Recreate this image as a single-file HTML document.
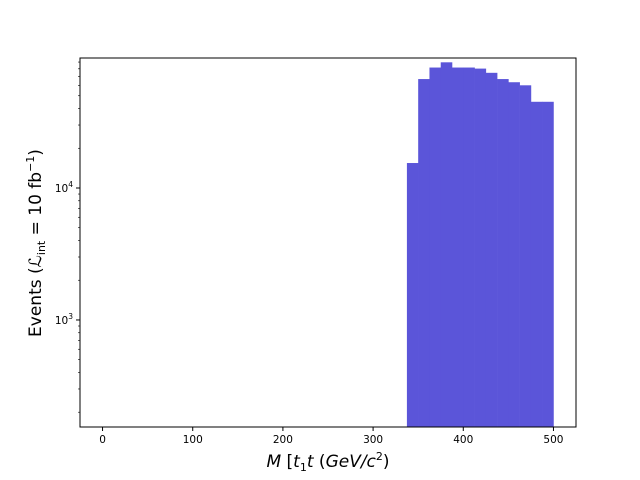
<!DOCTYPE html>
<html><head><meta charset="utf-8"><style>body{margin:0;background:#fff}svg{display:block}text{font-family:"DejaVu Sans","Liberation Sans",sans-serif}</style></head>
<body>
<svg id="c" width="640" height="480"></svg>
<script>
const binEdges=[337.5,350,362.5,375,387.5,400,412.5,425,437.5,450,462.5,475,487.5,500];
const counts=[15460,66900,81800,89600,81800,81800,80300,74600,66900,63300,60000,45000,45000];
const xTicks=[0,100,200,300,400,500];
const yTicks=[1000,10000];
const L=80,R=576,T=58,B=427;
const xMin=-25,xMax=525,yMinLog=2.189,yMaxLog=4.985;
function X(v){return L+(v-xMin)/(xMax-xMin)*(R-L);}
function Y(v){return B-(Math.log10(v)-yMinLog)/(yMaxLog-yMinLog)*(B-T);}
const s=document.getElementById('c');const NS='http://www.w3.org/2000/svg';
function el(t,a,p){const e=document.createElementNS(NS,t);for(const k in a)e.setAttribute(k,a[k]);(p||s).appendChild(e);return e;}
const bars=el('g',{});


counts.forEach((c,i)=>{const x0=X(binEdges[i]),x1=X(binEdges[i+1]);
const r=el('rect',{x:x0,y:Y(c),width:x1-x0+0.3,height:B-Y(c),fill:'#5b55d9'},bars);

});
const fr=el('rect',{x:L,y:T,width:R-L,height:B-T,fill:'none',stroke:'#000','stroke-width':1});


xTicks.forEach(v=>{const x=X(v);el('line',{x1:x,x2:x,y1:B,y2:B+4,stroke:'#000'});
const t=el('text',{x:x,y:B+16,'font-size':10.5,'text-anchor':'middle'});t.textContent=v;

});
yTicks.forEach(v=>{const y=Y(v);el('line',{x1:L,x2:L-4,y1:y,y2:y,stroke:'#000'});
const t=el('text',{x:L-7,y:y+4,'font-size':10.5,'text-anchor':'end'});
t.innerHTML='10<tspan dy="-5" font-size="7.5">'+Math.round(Math.log10(v))+'</tspan>';

});
for(let d=2;d<=5;d++){for(let m=2;m<=9;m++){const v=m*Math.pow(10,d);const lv=Math.log10(v);if(lv<yMinLog||lv>yMaxLog)continue;const y=Y(v);el('line',{x1:L,x2:L-2,y1:y,y2:y,stroke:'#000','stroke-width':0.6});}}
const xl=el('text',{x:328,y:467,'font-size':17,'text-anchor':'middle'});
xl.innerHTML='<tspan font-style="italic">M</tspan> [<tspan font-style="italic">t</tspan><tspan font-size="11" dy="4">1</tspan><tspan dy="-4" font-style="italic">t</tspan> (<tspan font-style="italic">GeV/c</tspan><tspan font-size="11" dy="-7">2</tspan><tspan dy="7">)</tspan>';


const yl=el('text',{x:0,y:0,'font-size':17,'text-anchor':'middle',transform:'translate(41,243) rotate(-90)'});
yl.innerHTML='Events (<tspan font-style="italic">ℒ</tspan><tspan font-size="11" dy="4">int</tspan><tspan dy="-4"> = 10 fb</tspan><tspan font-size="11" dy="-7">−1</tspan><tspan dy="7">)</tspan>';


</script>
</body></html>
